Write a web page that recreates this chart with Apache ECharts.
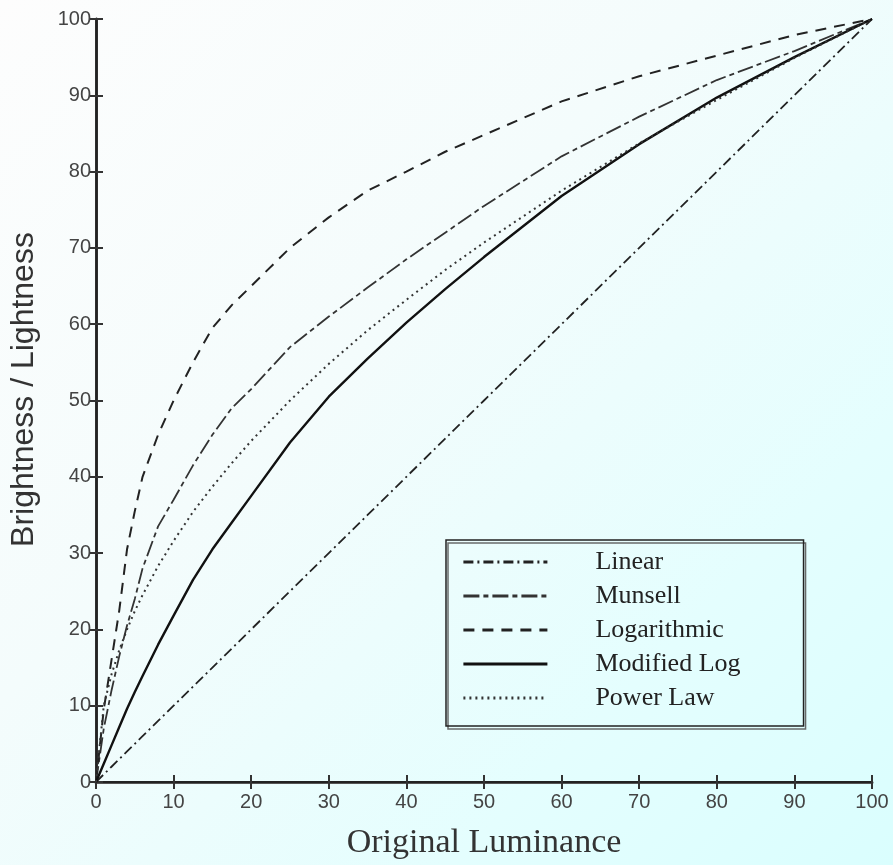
<!DOCTYPE html>
<html>
<head>
<meta charset="utf-8">
<script src="https://cdn.jsdelivr.net/npm/echarts@6/dist/echarts.min.js"></script>
<style>
  html, body { margin: 0; padding: 0; }
  body { width: 893px; height: 865px; background: linear-gradient(135deg, #fdfdfd 0%, #f4fcfc 40%, #e4fefe 75%, #dafefe 100%); }
  #chart { width: 893px; height: 865px; }
</style>
</head>
<body>
<div id="chart"></div>
<script>
const xValues = [0, 1, 2, 3, 4, 5, 6, 8, 10, 12.5, 15, 17.5, 20, 25, 30, 35, 40, 45, 50, 60, 70, 80, 90, 100];
const linearValues = [0, 1, 2, 3, 4, 5, 6, 8, 10, 12.5, 15, 17.5, 20, 25, 30, 35, 40, 45, 50, 60, 70, 80, 90, 100];
const munsellValues = [0, 7, 12, 16.5, 20.5, 24, 28, 33.5, 37, 41.5, 45.5, 49, 51.5, 57, 61, 64.8, 68.5, 72, 75.5, 82, 87.2, 92, 95.8, 100];
const logValues = [0, 9.5, 16, 22.5, 30.5, 35.5, 40, 45.5, 50, 55, 59.5, 62.5, 65, 70, 74, 77.5, 80, 82.6, 84.8, 89.2, 92.5, 95.2, 97.9, 100];
const modLogValues = [0, 2.4, 4.8, 7.2, 9.6, 11.8, 13.9, 18, 21.8, 26.5, 30.5, 34, 37.5, 44.5, 50.5, 55.5, 60.2, 64.6, 68.8, 76.8, 83.6, 89.7, 95, 100];
const powerValues = [0, 10, 14.1, 17.3, 20, 22.4, 24.5, 28.3, 31.6, 35.4, 38.7, 41.8, 44.7, 50, 54.8, 59.2, 63.2, 67.1, 70.7, 77.5, 83.7, 89.4, 94.9, 100];
const seriesNames = ['Linear', 'Munsell', 'Logarithmic', 'Modified Log', 'Power Law'];
const axisTitleX = 'Original Luminance';
const axisTitleY = 'Brightness / Lightness';

function pairs(ys) { return xValues.map((x, i) => [x, ys[i]]); }

const chart = echarts.init(document.getElementById('chart'), null, { renderer: 'canvas' });

const valueAxisBase = { type: 'value', min: 0, max: 100, interval: 10, splitLine: { show: false } };

const styles = [
  { type: [10, 4, 2, 4], width: 1.8, color: '#222' },
  { type: [16, 4, 5, 4], width: 1.8, color: '#333' },
  { type: [11, 8], width: 2, color: '#222' },
  { type: 'solid', width: 2.4, color: '#111' },
  { type: [2, 4], width: 2, color: '#333' }
];
const datasets = [linearValues, munsellValues, logValues, modLogValues, powerValues];

chart.setOption({
  backgroundColor: 'transparent',
  animation: false,
  grid: { left: 95, right: 21, top: 19, bottom: 69 },
  legend: {
    orient: 'vertical',
    left: 446, top: 540,
    padding: [9, 63, 15, 16],
    itemWidth: 84, itemHeight: 20, itemGap: 8,
    borderColor: '#222', borderWidth: 1.5,
    shadowColor: 'rgba(90,90,90,0.9)', shadowOffsetX: 2, shadowOffsetY: 3, shadowBlur: 0,
    itemStyle: { opacity: 0, borderWidth: 0 },
    lineStyle: { width: 2.8 },
    textStyle: { fontFamily: 'Liberation Serif', fontSize: 26, color: '#222', padding: [0, 0, 0, 43] },
    data: seriesNames
  },
  xAxis: [
    Object.assign({}, valueAxisBase, {
      position: 'bottom',
      name: axisTitleX, nameLocation: 'middle', nameGap: 44,
      nameTextStyle: { fontFamily: 'Liberation Serif', fontSize: 34, color: '#333' },
      axisLine: { lineStyle: { color: '#555', width: 3 } },
      axisTick: { inside: true, length: 7, lineStyle: { color: '#333', width: 2 } },
      axisLabel: { fontFamily: 'Liberation Sans', fontSize: 20, color: '#444', margin: 10 }
    }),
    Object.assign({}, valueAxisBase, {
      position: 'top',
      axisLine: { lineStyle: { color: '#222', width: 2 } },
      axisTick: { inside: true, length: 7, lineStyle: { color: '#333', width: 2 } },
      axisLabel: { show: false }
    })
  ],
  yAxis: [
    Object.assign({}, valueAxisBase, {
      position: 'left',
      name: axisTitleY, nameLocation: 'middle', nameGap: 56,
      nameTextStyle: { fontFamily: 'Liberation Sans', fontSize: 32, color: '#333', padding: [0, 0, 0, 22] },
      axisLine: { lineStyle: { color: '#555', width: 3 } },
      axisTick: { inside: true, length: 7, lineStyle: { color: '#333', width: 2 } },
      axisLabel: { fontFamily: 'Liberation Sans', fontSize: 20, color: '#444', margin: 5 }
    }),
    Object.assign({}, valueAxisBase, {
      position: 'right',
      axisLine: { lineStyle: { color: '#222', width: 2.5 } },
      axisTick: { inside: true, length: 7, lineStyle: { color: '#333', width: 2 } },
      axisLabel: { show: false }
    })
  ],
  series: seriesNames.map((name, i) => ({
    name: name,
    type: 'line',
    xAxisIndex: 0, yAxisIndex: 0,
    showSymbol: false, symbol: 'none',
    smooth: false,
    lineStyle: styles[i],
    itemStyle: { color: styles[i].color },
    data: pairs(datasets[i])
  }))
});
</script>
</body>
</html>
